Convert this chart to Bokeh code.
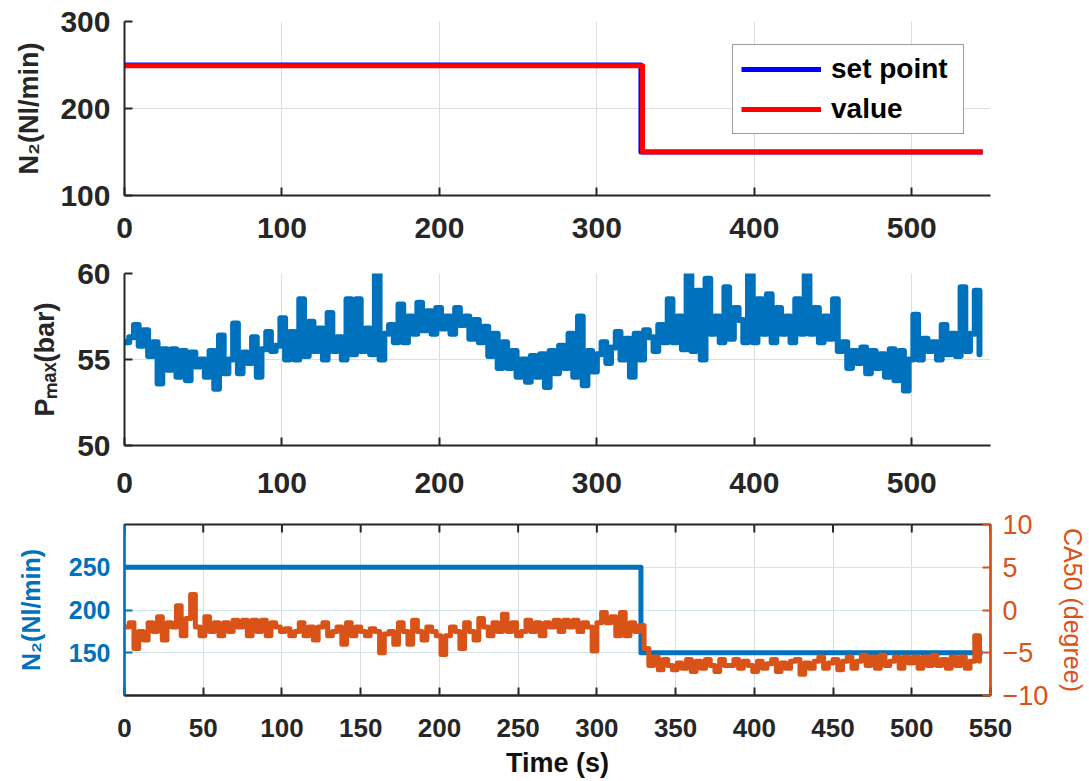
import numpy as np
from bokeh.plotting import figure
from bokeh.models import Range1d, LinearAxis, FixedTicker, Legend, LegendItem
from bokeh.layouts import column
from bokeh.embed import file_html
from bokeh.resources import INLINE

# ---------------- data ----------------
# Panel 1: N2 flow set point and measured value (Nl/min)
setpoint_time = [0, 328, 328, 545]
setpoint_n2 = [250, 250, 150, 150]
value_time = [0, 329, 329, 545]
value_n2 = [249, 249, 150, 150]

# Panel 2 / 3: sampled every 3 s
sample_step = 3
pmax = [
    56.0, 56.3, 57.0, 55.8, 56.7, 55.2, 56.0, 53.6, 55.6, 54.4,
    55.6, 54.0, 55.5, 53.8, 55.4, 54.6, 55.0, 54.0, 55.5, 53.3,
    56.4, 54.2, 55.0, 57.1, 54.2, 55.4, 54.8, 56.3, 54.0, 55.6,
    56.6, 55.5, 55.8, 57.4, 55.0, 56.6, 55.0, 58.5, 55.2, 57.2,
    55.5, 56.8, 55.0, 57.7, 55.5, 56.3, 55.0, 58.5, 55.3, 58.5,
    55.5, 56.8, 55.3, 60.0, 55.0, 56.5, 57.0, 56.0, 58.2, 56.0,
    57.5, 56.5, 58.3, 56.7, 57.8, 56.5, 58.0, 56.8, 57.5, 56.5,
    58.0, 57.0, 57.5, 56.2, 57.3, 56.0, 56.9, 55.2, 56.5, 54.5,
    56.0, 54.5, 55.5, 54.0, 55.0, 53.7, 55.2, 54.0, 55.3, 53.4,
    55.5, 54.2, 55.8, 54.5, 56.5, 54.0, 57.5, 53.5, 55.5, 54.3,
    55.3, 56.0, 54.8, 55.7, 56.6, 55.0, 56.2, 54.0, 56.5, 55.0,
    56.7, 56.3, 55.5, 57.0, 56.0, 58.5, 56.0, 57.5, 55.6, 60.0,
    55.5, 59.0, 55.0, 59.7, 56.5, 57.5, 56.0, 59.2, 56.2, 58.0,
    57.3, 56.0, 60.0, 56.0, 58.5, 56.5, 58.8, 56.0, 58.0, 56.5,
    57.5, 56.0, 58.5, 56.5, 60.0, 56.5, 58.0, 56.0, 57.5, 56.2,
    58.5, 55.5, 56.0, 54.5, 55.5, 54.8, 55.7, 54.2, 55.5, 54.5,
    55.3, 54.0, 55.6, 53.8, 55.5, 53.2, 55.0, 57.6, 55.0, 56.2,
    55.5, 56.0, 55.0, 57.0, 55.3, 56.5, 55.2, 59.2, 55.5, 56.5,
    59.0, 55.3,
]

ca50 = [
    -2.0, -1.5, -4.5, -2.5, -3.5, -1.5, -2.5, -0.8, -3.5, -1.5,
    -2.0, 0.5, -3.0, -1.0, 1.8, -2.0, -3.0, -0.8, -2.5, -1.5,
    -3.0, -1.5, -2.5, -1.2, -2.0, -1.2, -3.0, -1.2, -2.5, -1.2,
    -3.0, -1.5, -2.0, -2.5, -2.2, -3.0, -2.5, -1.5, -3.0, -2.0,
    -3.5, -2.0, -1.5, -3.0, -2.5, -2.0, -4.0, -1.5, -3.0, -2.0,
    -2.5, -3.0, -2.2, -2.5, -5.0, -2.8, -2.5, -4.0, -1.5, -2.5,
    -4.0, -1.2, -2.5, -3.5, -2.0, -2.5, -3.0, -5.2, -3.0, -2.0,
    -2.5, -4.5, -1.5, -2.5, -3.5, -1.0, -2.0, -3.0, -1.5, -2.5,
    -0.5, -2.5, -1.5, -3.0, -2.5, -1.2, -2.5, -1.5, -3.0, -1.5,
    -2.0, -1.2, -2.5, -1.2, -2.0, -1.2, -2.5, -1.5, -2.0, -4.8,
    -1.5, -0.3, -1.5, -0.8, -3.0, -0.3, -3.0, -1.5, -2.5, -1.8,
    -4.5, -6.5, -5.5, -7.0, -5.8, -6.5, -7.0, -6.2, -6.8, -5.8,
    -7.2, -6.0, -6.8, -5.8, -6.5, -7.2, -5.8, -6.5, -6.5, -5.8,
    -6.8, -6.0, -6.5, -7.2, -6.0, -6.8, -6.3, -5.8, -7.2, -6.2,
    -6.8, -6.0, -5.8, -7.5, -6.2, -6.8, -6.0, -5.5, -6.8, -6.2,
    -5.8, -7.0, -6.0, -5.5, -6.8, -6.0, -5.3, -6.5, -5.5, -6.8,
    -5.3, -6.5, -6.0, -5.5, -6.8, -5.5, -6.2, -5.5, -6.8, -5.5,
    -6.5, -5.3, -6.5, -5.8, -6.8, -5.5, -6.5, -5.5, -6.8, -6.0,
    -3.0, -6.0,
]
pmax_time = np.arange(len(pmax)) * sample_step
ca50_time = np.arange(len(ca50)) * sample_step

# Panel 3 left axis: N2 set point
n2_time = [0, 328, 328, 545]
n2_flow = [250, 250, 150, 150]

# ticks
x_ticks_top = [0, 100, 200, 300, 400, 500]
y_ticks_n2 = [100, 200, 300]
y_ticks_pmax = [50, 55, 60]
x_ticks_bot = [0, 50, 100, 150, 200, 250, 300, 350, 400, 450, 500, 550]
y_ticks_left_bot = [150, 200, 250]
y_ticks_right_bot = [-10, -5, 0, 5, 10]

# ---------------- styling ----------------
DARK = "#262626"
BLUE = "#0072BD"
ORANGE = "#D95319"
FONT = "Liberation Sans"
GRID = "#dedede"
FRAME_W = 866


def style_axis(ax, color, size, bold=True, lab_size=None):
    ax.axis_line_color = color
    ax.axis_line_width = 2
    ax.major_tick_line_color = color
    ax.major_tick_line_width = 2
    ax.major_tick_in = 8
    ax.major_tick_out = 0
    ax.minor_tick_line_color = None
    ax.major_label_text_font = FONT
    ax.major_label_text_font_size = size
    ax.major_label_text_font_style = "bold" if bold else "normal"
    ax.major_label_text_color = color
    ax.axis_label_text_font = FONT
    ax.axis_label_text_font_size = lab_size or size
    ax.axis_label_text_font_style = "bold" if bold else "normal"
    ax.axis_label_text_color = color


def make_fig(fh, top, bottom, xr, yr):
    p = figure(frame_width=FRAME_W, frame_height=fh, output_backend="svg",
               toolbar_location=None, x_range=Range1d(*xr), y_range=Range1d(*yr),
               min_border_left=124, min_border_right=90,
               min_border_top=top, min_border_bottom=bottom)
    p.outline_line_color = None
    p.background_fill_color = "white"
    p.border_fill_color = "white"
    return p


# ---------------- panel 1 ----------------
p1 = make_fig(174, 21, 62, (0, 550), (100, 300))
r_sp = p1.line(setpoint_time, setpoint_n2, line_color="#0000FF", line_width=5,
               line_join="round")
r_val = p1.line(value_time, value_n2, line_color="#FF0000", line_width=5,
                line_join="round")
p1.xaxis.ticker = FixedTicker(ticks=x_ticks_top)
p1.yaxis.ticker = FixedTicker(ticks=y_ticks_n2)
p1.xgrid.ticker = FixedTicker(ticks=x_ticks_top)
p1.ygrid.ticker = FixedTicker(ticks=y_ticks_n2)
style_axis(p1.xaxis[0], DARK, "30px")
style_axis(p1.yaxis[0], DARK, "30px", lab_size="27px")
p1.yaxis.axis_label = "N\u2082(Nl/min)"
p1.xaxis.major_label_standoff = 22
p1.yaxis.major_label_standoff = 14
p1.yaxis.axis_label_standoff = 13
for g in (p1.xgrid[0], p1.ygrid[0]):
    g.grid_line_color = GRID
    g.grid_line_width = 1

legend = Legend(items=[LegendItem(label="set point", renderers=[r_sp]),
                       LegendItem(label="value", renderers=[r_val])],
                location=(608, 61))
legend.label_text_font = FONT
legend.label_text_font_style = "bold"
legend.label_text_font_size = "28px"
legend.label_text_color = "#000000"
legend.glyph_width = 80
legend.glyph_height = 26
legend.label_height = 26
legend.label_width = 124
legend.spacing = 8
legend.padding = 8
legend.margin = 0
legend.label_standoff = 10
legend.border_line_color = "#3c3c3c"
legend.border_line_width = 1
legend.background_fill_alpha = 1
p1.add_layout(legend)

# ---------------- panel 2 ----------------
p2 = make_fig(172, 16, 62, (0, 550), (50, 60))
p2.step(pmax_time, pmax, mode="after", line_color=BLUE, line_width=6,
        line_join="round", line_cap="round")
p2.xaxis.ticker = FixedTicker(ticks=x_ticks_top)
p2.yaxis.ticker = FixedTicker(ticks=y_ticks_pmax)
p2.xgrid.ticker = FixedTicker(ticks=x_ticks_top)
p2.ygrid.ticker = FixedTicker(ticks=y_ticks_pmax)
style_axis(p2.xaxis[0], DARK, "30px")
style_axis(p2.yaxis[0], DARK, "30px", lab_size="27px")
p2.yaxis.axis_label = "P\u2098\u2090\u2093(bar)"
p2.xaxis.major_label_standoff = 27
p2.yaxis.major_label_standoff = 14
p2.yaxis.axis_label_standoff = 14
for g in (p2.xgrid[0], p2.ygrid[0]):
    g.grid_line_color = GRID
    g.grid_line_width = 1

# ---------------- panel 3 ----------------
p3 = make_fig(171, 17, 80, (0, 550), (100, 300))
p3.outline_line_color = DARK
p3.outline_line_width = 2
p3.extra_y_ranges = {"ca50": Range1d(-10, 10)}
p3.line(n2_time, n2_flow, line_color=BLUE, line_width=5, line_join="round")
p3.step(ca50_time, ca50, mode="after", y_range_name="ca50", line_color=ORANGE,
        line_width=5, line_join="round", line_cap="round")
# inward tick marks on the top frame edge (8 px long)
tick_len = 8 * (300 - 100) / 171
p3.segment(x0=x_ticks_bot, y0=[300] * len(x_ticks_bot),
           x1=x_ticks_bot, y1=[300 - tick_len] * len(x_ticks_bot),
           line_color=DARK, line_width=2)
p3.xaxis.ticker = FixedTicker(ticks=x_ticks_bot)
p3.yaxis.ticker = FixedTicker(ticks=y_ticks_left_bot)
p3.xgrid.ticker = FixedTicker(ticks=x_ticks_bot)
p3.ygrid.ticker = FixedTicker(ticks=y_ticks_left_bot)
p3.xgrid.grid_line_color = "#d9dde2"
p3.ygrid.grid_line_color = "#d6e4f1"
style_axis(p3.xaxis[0], DARK, "26px", lab_size="27px")
style_axis(p3.yaxis[0], BLUE, "25px", lab_size="25px")
p3.xaxis.axis_label = "Time (s)"
p3.xaxis.axis_label_text_color = "#111111"
p3.yaxis.axis_label = "N\u2082(Nl/min)"
p3.xaxis.major_label_standoff = 23
p3.xaxis.axis_label_standoff = 8
p3.yaxis.major_label_standoff = 14
p3.yaxis.axis_label_standoff = 21

right = LinearAxis(y_range_name="ca50", ticker=FixedTicker(ticks=y_ticks_right_bot),
                   axis_label="CA50 (degree)")
style_axis(right, ORANGE, "27px", bold=False, lab_size="25px")
right.major_label_standoff = 12
right.axis_label_standoff = 8
p3.add_layout(right, "right")

layout = column(p1, p2, p3, spacing=0)
open("out.html", "w").write(file_html(layout, INLINE))
